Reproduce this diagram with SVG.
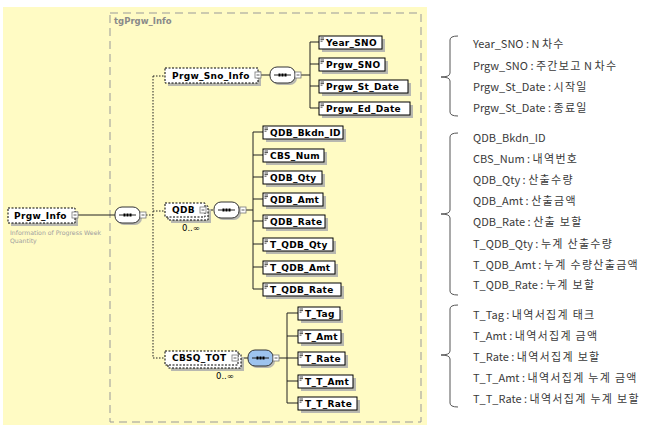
<svg xmlns="http://www.w3.org/2000/svg" width="647" height="426" viewBox="0 0 647 426">
<style>
.el{fill:#fff;stroke:#000;stroke-width:1}
.opt{fill:#fff;stroke:#000;stroke-width:1;stroke-dasharray:2,1.5}
.sh{fill:#b8b8b0}
.t{font-family:"DejaVu Sans",Verdana,sans-serif;font-weight:bold;font-size:9px;letter-spacing:0.3px;fill:#000}
.occ{font-family:"DejaVu Sans",Verdana,sans-serif;font-size:8.5px;fill:#000}
.desc{font-family:"DejaVu Sans",Verdana,sans-serif;font-size:6.2px;fill:#a0a0a0}
.kr{font-family:"Noto Sans CJK KR","Noto Sans",sans-serif;font-size:11px;fill:#3a3a3a}
.k{letter-spacing:1.3px}
.ln{stroke:#222;stroke-width:1;fill:none}
.dot{stroke:#222;stroke-width:1;fill:none;stroke-dasharray:1.5,1.5}
.mn{fill:#fff;stroke:#777;stroke-width:0.8}
.mnl{stroke:#333;stroke-width:0.8}
.cmp{fill:#fff;stroke:#333;stroke-width:1}
.cmpb{fill:#9dc3ee;stroke:#333;stroke-width:1}
.ic{stroke:#000;stroke-width:0.7}
.br{stroke:#555;stroke-width:1;fill:none}
</style>
<defs>
<g id="minus"><rect class="mn" x="0" y="0" width="6" height="6"/><line class="mnl" x1="1.5" y1="3" x2="4.5" y2="3"/></g>
<g id="icon"><line class="ic" x1="1.5" y1="2" x2="5" y2="2"/><line class="ic" x1="1.5" y1="3.6" x2="5" y2="3.6"/><line class="ic" x1="1.5" y1="5.2" x2="3.5" y2="5.2"/></g>
<g id="seq"><rect class="sh" x="2" y="2" width="25" height="16" rx="7"/><rect class="cmp" x="0" y="0" width="25" height="16" rx="7"/><line class="ln" x1="4" y1="8" x2="21" y2="8"/><rect x="8.5" y="6.5" width="2" height="3" fill="#000"/><rect x="11.5" y="6.5" width="2" height="3" fill="#000"/><rect x="14.5" y="6.5" width="2" height="3" fill="#000"/></g>
</defs>
<rect x="0" y="0" width="647" height="426" fill="#fff"/>
<rect x="3" y="7" width="424" height="418" fill="#fffbc4"/>
<rect x="110" y="13" width="311" height="409" fill="none" stroke="#999" stroke-width="1" stroke-dasharray="8,5"/>
<text x="114" y="24" font-family="DejaVu Sans,Verdana,sans-serif" font-weight="bold" font-size="8.5" fill="#8a8a8a">tgPrgw_Info</text>

<g id="connectors">
<line class="ln" x1="78" y1="215" x2="115" y2="215"/>
<line class="dot" x1="146" y1="215" x2="153" y2="215"/>
<line class="dot" x1="153" y1="76" x2="153" y2="358"/>
<line class="dot" x1="153" y1="76" x2="165" y2="76"/>
<line class="dot" x1="153" y1="211" x2="165" y2="211"/>
<line class="dot" x1="153" y1="358" x2="165" y2="358"/>
<line class="ln" x1="261" y1="75" x2="270" y2="75"/>
<line class="ln" x1="301" y1="75" x2="310" y2="75"/>
<line class="ln" x1="310" y1="42" x2="310" y2="108"/>
<line class="ln" x1="310" y1="42" x2="319" y2="42"/>
<line class="ln" x1="310" y1="64" x2="319" y2="64"/>
<line class="ln" x1="310" y1="86" x2="319" y2="86"/>
<line class="ln" x1="310" y1="108" x2="319" y2="108"/>
<line class="ln" x1="206" y1="210" x2="213" y2="210"/>
<line class="ln" x1="246" y1="210" x2="253" y2="210"/>
<line class="ln" x1="253" y1="132" x2="253" y2="289"/>
<line class="ln" x1="253" y1="132" x2="263" y2="132"/>
<line class="ln" x1="253" y1="155" x2="263" y2="155"/>
<line class="ln" x1="253" y1="177" x2="263" y2="177"/>
<line class="ln" x1="253" y1="199" x2="263" y2="199"/>
<line class="ln" x1="253" y1="221" x2="263" y2="221"/>
<line class="ln" x1="253" y1="244" x2="263" y2="244"/>
<line class="ln" x1="253" y1="267" x2="263" y2="267"/>
<line class="ln" x1="253" y1="289" x2="263" y2="289"/>
<line class="ln" x1="239" y1="358" x2="248" y2="358"/>
<line class="ln" x1="279" y1="358" x2="287" y2="358"/>
<line class="ln" x1="287" y1="313" x2="287" y2="403"/>
<line class="ln" x1="287" y1="313" x2="298" y2="313"/>
<line class="ln" x1="287" y1="336" x2="298" y2="336"/>
<line class="ln" x1="287" y1="358" x2="298" y2="358"/>
<line class="ln" x1="287" y1="381" x2="298" y2="381"/>
<line class="ln" x1="287" y1="403" x2="298" y2="403"/>
</g>

<g id="Prgw_Info">
<rect class="sh" x="11" y="211" width="67" height="15"/>
<rect class="opt" x="8" y="208" width="67" height="15"/>
<text class="t" x="14" y="219">Prgw_Info</text>
<use href="#minus" x="72" y="212"/>
<text class="desc" x="10" y="235">Information of Progress Week</text>
<text class="desc" x="10" y="243">Quantity</text>
</g>
<g id="seq_root"><use href="#seq" x="115" y="207"/><use href="#minus" x="140" y="212"/></g>

<g id="Prgw_Sno_Info">
<rect class="sh" x="168" y="71" width="93" height="15"/>
<rect class="opt" x="165" y="68" width="93" height="15"/>
<text class="t" x="172" y="79">Prgw_Sno_Info</text>
<use href="#minus" x="255" y="72"/>
</g>
<g id="seq_sno"><use href="#seq" x="270" y="67"/><use href="#minus" x="295" y="72"/></g>

<g id="Year_SNO"><rect class="sh" x="322" y="39" width="63" height="13"/><rect class="el" x="319" y="36" width="63" height="13"/><use href="#icon" x="319" y="36"/><text class="t" x="326" y="46">Year_SNO</text></g>
<g id="Prgw_SNO"><rect class="sh" x="322" y="61" width="66" height="13"/><rect class="el" x="319" y="58" width="66" height="13"/><use href="#icon" x="319" y="58"/><text class="t" x="326" y="68">Prgw_SNO</text></g>
<g id="Prgw_St_Date"><rect class="sh" x="322" y="83" width="89" height="13"/><rect class="el" x="319" y="80" width="89" height="13"/><use href="#icon" x="319" y="80"/><text class="t" x="326" y="90">Prgw_St_Date</text></g>
<g id="Prgw_Ed_Date"><rect class="sh" x="322" y="105" width="91" height="13"/><rect class="el" x="319" y="102" width="91" height="13"/><use href="#icon" x="319" y="102"/><text class="t" x="326" y="112">Prgw_Ed_Date</text></g>

<g id="QDB">
<rect class="sh" x="171" y="209" width="40" height="14"/>
<rect class="opt" x="168" y="206" width="40" height="14"/>
<rect class="opt" x="165" y="203" width="40" height="14"/>
<text class="t" x="172" y="213">QDB</text>
<use href="#minus" x="200" y="207"/>
<text class="occ" x="182" y="231">0..∞</text>
</g>
<g id="seq_qdb"><use href="#seq" x="214" y="202"/><use href="#minus" x="240" y="207"/></g>

<g id="QDB_Bkdn_ID"><rect class="sh" x="266" y="129" width="80" height="13"/><rect class="el" x="263" y="126" width="80" height="13"/><use href="#icon" x="263" y="126"/><text class="t" x="270" y="136">QDB_Bkdn_ID</text></g>
<g id="CBS_Num"><rect class="sh" x="266" y="152" width="61" height="13"/><rect class="el" x="263" y="149" width="61" height="13"/><use href="#icon" x="263" y="149"/><text class="t" x="270" y="159">CBS_Num</text></g>
<g id="QDB_Qty"><rect class="sh" x="266" y="174" width="59" height="13"/><rect class="el" x="263" y="171" width="59" height="13"/><use href="#icon" x="263" y="171"/><text class="t" x="270" y="181">QDB_Qty</text></g>
<g id="QDB_Amt"><rect class="sh" x="266" y="196" width="60" height="13"/><rect class="el" x="263" y="193" width="60" height="13"/><use href="#icon" x="263" y="193"/><text class="t" x="270" y="203">QDB_Amt</text></g>
<g id="QDB_Rate"><rect class="sh" x="266" y="218" width="62" height="13"/><rect class="el" x="263" y="215" width="62" height="13"/><use href="#icon" x="263" y="215"/><text class="t" x="270" y="225">QDB_Rate</text></g>
<g id="T_QDB_Qty"><rect class="sh" x="266" y="241" width="70" height="13"/><rect class="el" x="263" y="238" width="70" height="13"/><use href="#icon" x="263" y="238"/><text class="t" x="270" y="248">T_QDB_Qty</text></g>
<g id="T_QDB_Amt"><rect class="sh" x="266" y="264" width="72" height="13"/><rect class="el" x="263" y="261" width="72" height="13"/><use href="#icon" x="263" y="261"/><text class="t" x="270" y="271">T_QDB_Amt</text></g>
<g id="T_QDB_Rate"><rect class="sh" x="266" y="286" width="78" height="13"/><rect class="el" x="263" y="283" width="78" height="13"/><use href="#icon" x="263" y="283"/><text class="t" x="270" y="293">T_QDB_Rate</text></g>

<g id="CBSQ_TOT">
<rect class="sh" x="171" y="357" width="73" height="14"/>
<rect class="opt" x="168" y="354" width="73" height="14"/>
<rect class="opt" x="165" y="351" width="73" height="14"/>
<text class="t" x="172" y="361">CBSQ_TOT</text>
<use href="#minus" x="232" y="355"/>
<text class="occ" x="216" y="379">0..∞</text>
</g>
<g id="seq_tot"><rect class="sh" x="250" y="352" width="25" height="16" rx="7"/><rect class="cmpb" x="248" y="350" width="25" height="16" rx="7"/><line class="ln" x1="252" y1="358" x2="269" y2="358"/><rect x="256.5" y="356.5" width="2" height="3" fill="#000"/><rect x="259.5" y="356.5" width="2" height="3" fill="#000"/><rect x="262.5" y="356.5" width="2" height="3" fill="#000"/><use href="#minus" x="273" y="355"/></g>

<g id="T_Tag"><rect class="sh" x="301" y="310" width="42" height="13"/><rect class="el" x="298" y="307" width="42" height="13"/><use href="#icon" x="298" y="307"/><text class="t" x="305" y="317">T_Tag</text></g>
<g id="T_Amt"><rect class="sh" x="301" y="333" width="43" height="13"/><rect class="el" x="298" y="330" width="43" height="13"/><use href="#icon" x="298" y="330"/><text class="t" x="305" y="340">T_Amt</text></g>
<g id="T_Rate"><rect class="sh" x="301" y="355" width="47" height="13"/><rect class="el" x="298" y="352" width="47" height="13"/><use href="#icon" x="298" y="352"/><text class="t" x="305" y="362">T_Rate</text></g>
<g id="T_T_Amt"><rect class="sh" x="301" y="378" width="55" height="13"/><rect class="el" x="298" y="375" width="55" height="13"/><use href="#icon" x="298" y="375"/><text class="t" x="305" y="385">T_T_Amt</text></g>
<g id="T_T_Rate"><rect class="sh" x="301" y="400" width="59" height="13"/><rect class="el" x="298" y="397" width="59" height="13"/><use href="#icon" x="298" y="397"/><text class="t" x="305" y="407">T_T_Rate</text></g>

<g id="notes">
<path class="br" d="M458,36 Q450,36 450,40 V73 Q450,77 441,77 Q450,77 450,81 V112 Q450,116 458,116"/>
<text class="kr" x="473" y="48">Year_SNO : N <tspan class="k">차수</tspan></text>
<text class="kr" x="473" y="70">Prgw_SNO : <tspan class="k">주간보고</tspan> N <tspan class="k">차수</tspan></text>
<text class="kr" x="473" y="91">Prgw_St_Date : <tspan class="k">시작일</tspan></text>
<text class="kr" x="473" y="112">Prgw_St_Date : <tspan class="k">종료일</tspan></text>
<path class="br" d="M458,133 Q450,133 450,137 V210 Q450,214 441,214 Q450,214 450,218 V291 Q450,295 458,295"/>
<text class="kr" x="473" y="142">QDB_Bkdn_ID</text>
<text class="kr" x="473" y="163">CBS_Num : <tspan class="k">내역번호</tspan></text>
<text class="kr" x="473" y="184">QDB_Qty : <tspan class="k">산출수량</tspan></text>
<text class="kr" x="473" y="205">QDB_Amt : <tspan class="k">산출금액</tspan></text>
<text class="kr" x="473" y="226">QDB_Rate : <tspan class="k">산출 보할</tspan></text>
<text class="kr" x="473" y="248">T_QDB_Qty : <tspan class="k">누계 산출수량</tspan></text>
<text class="kr" x="473" y="269">T_QDB_Amt : <tspan class="k">누계 수량산출금액</tspan></text>
<text class="kr" x="473" y="289">T_QDB_Rate : <tspan class="k">누계 보할</tspan></text>
<path class="br" d="M458,305 Q450,305 450,309 V351 Q450,355 441,355 Q450,355 450,359 V403 Q450,407 458,407"/>
<text class="kr" x="473" y="319">T_Tag : <tspan class="k">내역서집계 태크</tspan></text>
<text class="kr" x="473" y="340">T_Amt : <tspan class="k">내역서집계 금액</tspan></text>
<text class="kr" x="473" y="361">T_Rate : <tspan class="k">내역서집계 보할</tspan></text>
<text class="kr" x="473" y="382">T_T_Amt : <tspan class="k">내역서집계 누계 금액</tspan></text>
<text class="kr" x="473" y="403">T_T_Rate : <tspan class="k">내역서집계 누계 보할</tspan></text>
</g>
</svg>
